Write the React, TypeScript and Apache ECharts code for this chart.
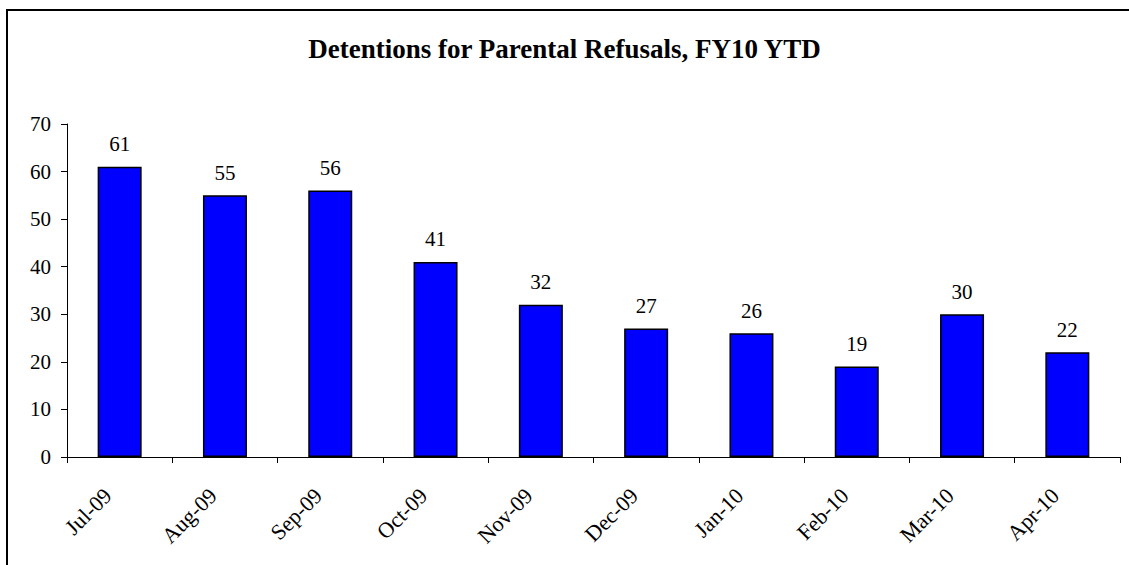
import React, { useEffect, useRef } from "react";
import * as echarts from "echarts";

const categories = ["Jul-09", "Aug-09", "Sep-09", "Oct-09", "Nov-09", "Dec-09", "Jan-10", "Feb-10", "Mar-10", "Apr-10"];
const detentions = [61, 55, 56, 41, 32, 27, 26, 19, 30, 22];
const yTicks = { min: 0, max: 70, interval: 10 };
const titleText = "Detentions for Parental Refusals, FY10 YTD";

const FONT = "'Liberation Serif', 'Times New Roman', serif";

export default function App() {
  const ref = useRef<HTMLDivElement>(null);
  useEffect(() => {
    if (!ref.current) return;
    const chart = echarts.init(ref.current, null, { renderer: "svg" });
    chart.setOption({
      animation: false,
      backgroundColor: "#ffffff",
      title: {
        text: titleText,
        left: "center",
        top: 30,
        textStyle: { fontFamily: FONT, fontSize: 27, fontWeight: "bold", color: "#000" },
      },
      graphic: [
        {
          type: "rect",
          shape: { x: 7, y: 10, width: 1300, height: 800 },
          style: { fill: "none", stroke: "#000", lineWidth: 2 },
          silent: true,
        },
      ],
      grid: { left: 67, right: 9, top: 124, bottom: 108, containLabel: false },
      xAxis: {
        type: "category",
        data: categories,
        boundaryGap: true,
        axisLine: { show: true, lineStyle: { color: "#000", width: 1 } },
        axisTick: { show: true, alignWithLabel: false, length: 6, lineStyle: { color: "#000" } },
        axisLabel: {
          rotate: 45,
          margin: 23,
          padding: [0, 17, 0, 0],
          interval: 0,
          fontFamily: FONT,
          fontSize: 22,
          color: "#000",
        },
        splitLine: { show: false },
      },
      yAxis: {
        type: "value",
        min: yTicks.min,
        max: yTicks.max,
        interval: yTicks.interval,
        axisLine: { show: true, lineStyle: { color: "#000", width: 1 } },
        axisTick: { show: true, length: 6, lineStyle: { color: "#000" } },
        axisLabel: { margin: 16, fontFamily: FONT, fontSize: 21, color: "#000" },
        splitLine: { show: false },
      },
      series: [
        {
          type: "bar",
          data: detentions,
          barWidth: 44,
          itemStyle: { color: "#0000FF", borderColor: "#000", borderWidth: 1.5 },
          label: {
            show: true,
            position: "top",
            distance: 12,
            fontFamily: FONT,
            fontSize: 21,
            color: "#000",
          },
        },
      ],
    });
    return () => chart.dispose();
  }, []);
  return (
    <div
      ref={ref}
      style={{ position: "fixed", left: 0, top: 0, width: 1129, height: 565, background: "#fff" }}
    />
  );
}
